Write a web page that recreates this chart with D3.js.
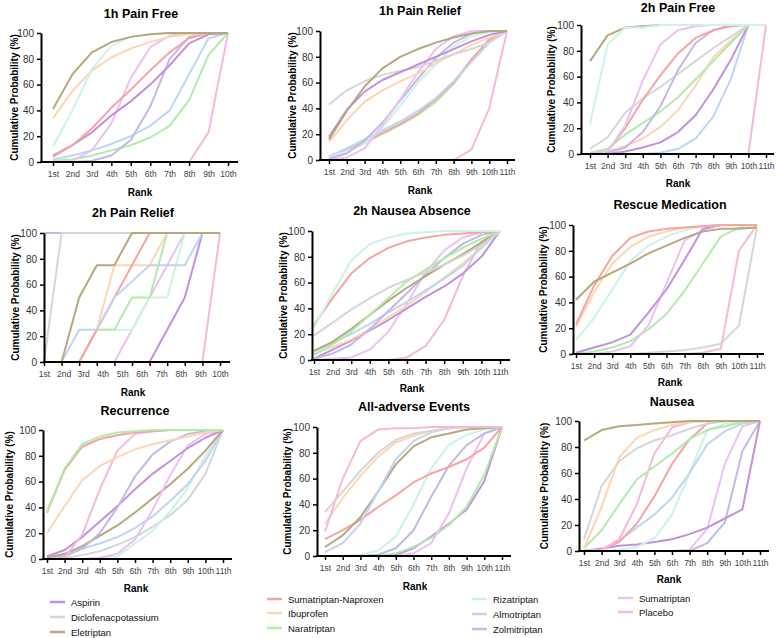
<!DOCTYPE html>
<html><head><meta charset="utf-8">
<script src="https://cdn.jsdelivr.net/npm/d3@7"></script>
<style>body{margin:0;background:#fff}svg{display:block}</style>
</head><body>
<svg id="c" width="776" height="638"></svg>
<script>
const rankLabels = ["1st","2nd","3rd","4th","5th","6th","7th","8th","9th","10th","11th"];
const yTicks = [0,20,40,60,80,100];
const treatments = ["Aspirin","Diclofenacpotassium","Eletriptan","Sumatriptan-Naproxen","Ibuprofen","Naratriptan","Rizatriptan","Almotriptan","Zolmitriptan","Sumatriptan","Placebo"];
const colors = ["#c291df","#d6d6d6","#b8a87e","#f9a3a5","#fed6b3","#b0ecaa","#ccf3e6","#c0d5f4","#c2b9e6","#ecc1f3","#f6b8dd"];

// 1h Pain Free (10 ranks)
const pf1h = [
  ["Placebo",[0,0,0,0,0,0,0,0,23,100]],
  ["Naratriptan",[1,2,5,9,13,19,28,48,83,100]],
  ["Almotriptan",[2,5,9,14,20,28,40,68,96,100]],
  ["Zolmitriptan",[0,0,1,5,17,43,80,97,100,100]],
  ["Sumatriptan",[0,1,9,30,65,89,98,100,100,100]],
  ["Aspirin",[5,13,23,36,47,60,75,92,99,100]],
  ["Sumatriptan-Naproxen",[4,13,26,42,56,71,85,96,100,100]],
  ["Ibuprofen",[34,55,71,81,88,93,97,99,100,100]],
  ["Rizatriptan",[12,40,72,90,97,99,100,100,100,100]],
  ["Eletriptan",[41,68,85,93,97,99,100,100,100,100]]
];
// 1h Pain Relief (11 ranks)
const pr1h = [
  ["Placebo",[0,0,0,0,0,0,0,0,8,40,100]],
  ["Naratriptan",[1,7,13,20,27,35,45,59,77,94,100]],
  ["Sumatriptan-Naproxen",[2,8,14,21,28,36,47,60,78,93,100]],
  ["Almotriptan",[3,9,16,23,30,38,48,61,76,91,100]],
  ["Rizatriptan",[2,7,13,25,42,60,74,88,96,99,100]],
  ["Zolmitriptan",[1,5,15,29,46,63,79,91,98,100,100]],
  ["Sumatriptan",[0,2,9,27,47,68,86,96,100,100,100]],
  ["Ibuprofen",[14,31,45,54,61,67,75,82,89,95,100]],
  ["Diclofenacpotassium",[43,54,61,66,69,72,77,82,86,91,100]],
  ["Aspirin",[18,39,53,62,68,74,80,86,92,97,100]],
  ["Eletriptan",[16,38,57,71,80,86,91,95,98,100,100]]
];
// 2h Pain Free (11 ranks)
const pf2h = [
  ["Placebo",[0,0,0,0,0,0,0,0,0,0,100]],
  ["Almotriptan",[0,0,0,0,1,4,12,29,58,100,100]],
  ["Aspirin",[0,0,2,5,9,17,30,50,73,100,100]],
  ["Ibuprofen",[0,2,6,12,21,34,53,75,88,100,100]],
  ["Naratriptan",[1,4,15,24,33,44,58,72,86,100,100]],
  ["Diclofenacpotassium",[4,13,32,43,52,62,72,82,91,100,100]],
  ["Zolmitriptan",[0,1,5,17,37,65,86,96,100,100,100]],
  ["Sumatriptan-Naproxen",[0,2,20,42,61,78,90,96,99,100,100]],
  ["Sumatriptan",[0,2,22,57,85,96,99,100,100,100,100]],
  ["Eletriptan",[72,92,98,99,100,100,100,100,100,100,100]],
  ["Rizatriptan",[23,85,98,98,100,100,100,100,100,100,100]]
];
// 2h Pain Relief (11 positions, 10 labels)
const pr2h = [
  ["Placebo",[0,0,0,0,0,0,0,0,0,0,100]],
  ["Zolmitriptan",[100,100,100,100,100,100,100,100,100,100,100]],
  ["Diclofenacpotassium",[0,100,100,100,100,100,100,100,100,100,100]],
  ["Aspirin",[0,0,0,0,0,0,0,25,50,100,100]],
  ["Sumatriptan",[0,0,0,0,0,25,50,75,100,100,100]],
  ["Rizatriptan",[0,0,0,25,25,25,50,50,100,100,100]],
  ["Naratriptan",[0,0,0,25,25,50,50,100,100,100,100]],
  ["Ibuprofen",[0,0,0,25,75,75,75,100,100,100,100]],
  ["Sumatriptan-Naproxen",[0,0,0,25,50,75,100,100,100,100,100]],
  ["Almotriptan",[0,0,25,25,50,62.5,75,75,75,100,100]],
  ["Eletriptan",[0,0,50,75,75,100,100,100,100,100,100]]
];
// 2h Nausea Absence (11 ranks)
const na2h = [
  ["Placebo",[0,0,0,0,0,2,11,31,65,92,100]],
  ["Sumatriptan",[0,1,2,8,22,44,68,85,95,99,100]],
  ["Aspirin",[1,8,15,23,31,40,49,57,67,80,100]],
  ["Ibuprofen",[5,10,16,24,33,42,53,64,75,87,100]],
  ["Almotriptan",[7,13,20,28,37,45,54,63,73,87,100]],
  ["Zolmitriptan",[1,5,12,24,38,52,66,79,90,97,100]],
  ["Eletriptan",[7,14,24,35,46,56,65,74,82,91,100]],
  ["Naratriptan",[4,12,22,35,48,61,70,79,87,94,100]],
  ["Diclofenacpotassium",[19,29,39,48,56,62,68,74,81,89,100]],
  ["Sumatriptan-Naproxen",[27,48,67,79,87,92,95,97,98,99,100]],
  ["Rizatriptan",[25,52,77,90,95,98,99,100,100,100,100]]
];
// Rescue Medication (11 ranks)
const rescue = [
  ["Diclofenacpotassium",[0,0,0,0,1,2,3,5,8,22,98]],
  ["Placebo",[0,0,0,0,0,0,0,1,4,80,100]],
  ["Naratriptan",[0,2,5,10,19,31,49,70,91,98,98]],
  ["Sumatriptan",[0,0,2,6,22,55,88,96,100,100,100]],
  ["Aspirin",[1,5,9,15,32,50,73,97,100,100,100]],
  ["Rizatriptan",[11,28,50,72,84,91,96,99,100,100,100]],
  ["Ibuprofen",[21,48,70,83,91,95,98,99,100,100,100]],
  ["Sumatriptan-Naproxen",[23,53,76,90,95,97,98,99,100,100,100]],
  ["Eletriptan",[42,56,63,70,78,84,90,95,97,97,98]]
];
// Recurrence (11 ranks)
const recurrence = [
  ["Diclofenacpotassium",[0,1,3,6,11,17,25,34,46,66,100]],
  ["Rizatriptan",[0,0,0,1,2,12,22,37,55,80,100]],
  ["Almotriptan",[1,3,8,12,17,24,33,45,58,76,100]],
  ["Eletriptan",[1,4,10,18,26,36,47,58,70,84,100]],
  ["Sumatriptan",[0,0,0,1,4,15,38,65,88,97,100]],
  ["Aspirin",[2,7,17,29,41,54,66,76,86,94,100]],
  ["Zolmitriptan",[0,2,8,20,40,64,81,91,97,99,100]],
  ["Placebo",[0,1,19,54,84,97,99,100,100,100,100]],
  ["Ibuprofen",[20,41,61,72,79,85,89,92,95,98,100]],
  ["Sumatriptan-Naproxen",[36,69,87,93,96,98,99,100,100,100,100]],
  ["Naratriptan",[37,70,89,95,98,99,100,100,100,100,100]]
];
// All-adverse Events (11 ranks)
const adverse = [
  ["Aspirin",[0,0,0,0,1,6,15,25,36,58,100]],
  ["Naratriptan",[0,0,0,0,2,7,14,24,38,63,100]],
  ["Sumatriptan",[0,0,0,0,0,2,10,33,68,95,100]],
  ["Zolmitriptan",[0,0,0,1,6,20,46,70,86,95,100]],
  ["Rizatriptan",[0,0,1,4,15,40,68,86,94,98,100]],
  ["Sumatriptan-Naproxen",[13,20,28,38,47,57,64,69,75,84,100]],
  ["Eletriptan",[7,16,30,50,71,85,92,95,98,99,100]],
  ["Almotriptan",[3,10,25,50,75,89,96,99,100,100,100]],
  ["Ibuprofen",[25,45,62,77,88,93,97,99,100,100,100]],
  ["Diclofenacpotassium",[34,50,66,80,90,95,97,99,100,100,100]],
  ["Placebo",[19,60,89,98,99,99,100,100,100,100,100]]
];
// Nausea (11 ranks)
const nausea = [
  ["Zolmitriptan",[0,0,0,0,0,0,0,6,22,77,100]],
  ["Sumatriptan",[0,0,0,0,0,0,1,17,67,96,100]],
  ["Aspirin",[0,2,4,5,7,9,13,18,25,32,100]],
  ["Rizatriptan",[0,0,1,3,10,28,60,93,98,100,100]],
  ["Almotriptan",[0,1,8,18,28,41,60,82,92,98,100]],
  ["Sumatriptan-Naproxen",[0,1,7,21,42,67,86,98,100,100,100]],
  ["Placebo",[0,1,9,36,75,95,99,100,100,100,100]],
  ["Naratriptan",[2,16,36,55,65,75,86,93,96,99,100]],
  ["Diclofenacpotassium",[9,50,69,79,85,89,94,98,100,100,100]],
  ["Ibuprofen",[2,34,72,87,93,97,99,100,100,100,100]],
  ["Eletriptan",[85,93,96,97,98,99,100,100,100,100,100]]
];

const panels = [
  {title:"1h Pain Free", data:pf1h, n:10, ax:41, x0:53, x1:228, xEnd:238, yTop:33, yBot:162, tx:141, ty:14, lx:14, rx:140, ry:192},
  {title:"1h Pain Relief", data:pr1h, n:11, ax:320, x0:329, x1:507, xEnd:515, yTop:31, yBot:160, tx:420, ty:11, lx:292, rx:420, ry:190},
  {title:"2h Pain Free", data:pf2h, n:11, ax:581, x0:590, x1:766, xEnd:774, yTop:25, yBot:154, tx:678, ty:8, lx:551, rx:678, ry:183},
  {title:"2h Pain Relief", data:pr2h, n:11, nLab:10, ax:44, x0:44, x1:220, xEnd:230, yTop:233, yBot:362, tx:133, ty:213, lx:15, rx:133, ry:392},
  {title:"2h Nausea Absence", data:na2h, n:11, ax:312, x0:314, x1:500, xEnd:510, yTop:231, yBot:360, tx:412, ty:211, lx:283, rx:412, ry:388},
  {title:"Rescue Medication", data:rescue, n:11, ax:573, x0:576, x1:757, xEnd:764, yTop:225, yBot:354, tx:670, ty:205, lx:543, rx:670, ry:382},
  {title:"Recurrence", data:recurrence, n:11, ax:43, x0:47, x1:223, xEnd:232, yTop:430, yBot:559, tx:135, ty:411, lx:9, rx:136, ry:588},
  {title:"All-adverse Events", data:adverse, n:11, ax:317, x0:325, x1:502, xEnd:511, yTop:427, yBot:556, tx:414, ty:407, lx:287, rx:415, ry:586},
  {title:"Nausea", data:nausea, n:11, ax:579, x0:584, x1:760, xEnd:769, yTop:421, yBot:551, tx:672, ty:402, lx:544, rx:669, ry:579}
];

const svg = d3.select("#c");
const colorOf = d3.scaleOrdinal().domain(treatments).range(colors);
const FONT = "'Liberation Sans', Arial, Helvetica, sans-serif";

panels.forEach(p => {
  const g = svg.append("g");
  const x = d3.scaleLinear().domain([1, p.n]).range([p.x0, p.x1]);
  const y = d3.scaleLinear().domain([0, 100]).range([p.yBot, p.yTop]);
  const line = d3.line().x((d,i) => x(i+1)).y(d => y(d));

  g.selectAll("path.series").data(p.data).join("path")
    .attr("class","series")
    .attr("d", d => line(d[1]))
    .attr("fill","none")
    .attr("stroke", d => colorOf(d[0]))
    .attr("stroke-width", 2)
    .attr("stroke-linejoin","round");

  const yAx = g.append("g").attr("transform", `translate(${p.ax},0)`)
    .call(d3.axisLeft(y).tickValues(yTicks).tickSize(4).tickSizeOuter(0).tickPadding(3));
  yAx.select(".domain").attr("stroke","#000").attr("stroke-width",2);
  yAx.selectAll(".tick line").attr("stroke","#000").attr("stroke-width",1.5);
  yAx.selectAll("text").attr("font-family",FONT).attr("font-size",10).attr("fill","#333");

  const ticks = d3.range(1, p.n + 1);
  const xAx = g.append("g").attr("transform", `translate(0,${p.yBot})`)
    .call(d3.axisBottom(x).tickValues(ticks).tickSize(4).tickSizeOuter(0)
      .tickFormat(p.nLab ? "" : (d => rankLabels[d-1])).tickPadding(5));
  xAx.select(".domain").remove();
  xAx.selectAll(".tick line").attr("stroke","#000").attr("stroke-width",1.5);
  xAx.selectAll("text").attr("font-family",FONT).attr("font-size",8.5).attr("fill","#444");
  g.append("line").attr("x1", p.ax - 1).attr("x2", p.xEnd).attr("y1", p.yBot).attr("y2", p.yBot)
    .attr("stroke","#000").attr("stroke-width",2);

  if (p.nLab) {
    const labPos = d3.range(p.nLab).map(i => 1 + i * (p.n - 1) / (p.nLab - 1));
    const lAx = g.append("g").attr("transform", `translate(0,${p.yBot})`)
      .call(d3.axisBottom(x).tickValues(labPos).tickSize(4).tickPadding(5)
        .tickFormat((d,i) => rankLabels[i]));
    lAx.select(".domain").remove();
    lAx.selectAll(".tick line").remove();
    lAx.selectAll("text").attr("font-family",FONT).attr("font-size",8.5).attr("fill","#444");
  }

  g.append("text").attr("x", p.tx).attr("y", p.ty).attr("text-anchor","middle")
    .attr("dominant-baseline","central").attr("font-family",FONT).attr("font-weight","bold")
    .attr("font-size",12.5).attr("fill","#000").text(p.title);
  g.append("text").attr("x", p.rx).attr("y", p.ry).attr("text-anchor","middle")
    .attr("dominant-baseline","central").attr("font-family",FONT).attr("font-weight","bold")
    .attr("font-size",10).attr("fill","#000").text("Rank");
  const cy = (p.yTop + p.yBot) / 2;
  g.append("text").attr("transform", `translate(${p.lx},${cy}) rotate(-90)`)
    .attr("text-anchor","middle").attr("dominant-baseline","central")
    .attr("font-family",FONT).attr("font-weight","bold").attr("font-size",10)
    .attr("fill","#000").text("Cumulative Probability (%)");
});

const legendCols = [
  {x:50, ys:[602,617,632], items:["Aspirin","Diclofenacpotassium","Eletriptan"]},
  {x:267, ys:[599,613,628], items:["Sumatriptan-Naproxen","Ibuprofen","Naratriptan"]},
  {x:472, ys:[599,614,629], items:["Rizatriptan","Almotriptan","Zolmitriptan"]},
  {x:618, ys:[598,612], items:["Sumatriptan","Placebo"]}
];
legendCols.forEach(c => {
  const lg = svg.append("g");
  c.items.forEach((name, i) => {
    lg.append("line").attr("x1", c.x).attr("x2", c.x + 15).attr("y1", c.ys[i]).attr("y2", c.ys[i])
      .attr("stroke", colorOf(name)).attr("stroke-width", 2.5);
    lg.append("text").attr("x", c.x + 21).attr("y", c.ys[i]).attr("dominant-baseline","central")
      .attr("font-family",FONT).attr("font-size",9.5).attr("fill","#111").text(name);
  });
});
</script>
</body></html>
